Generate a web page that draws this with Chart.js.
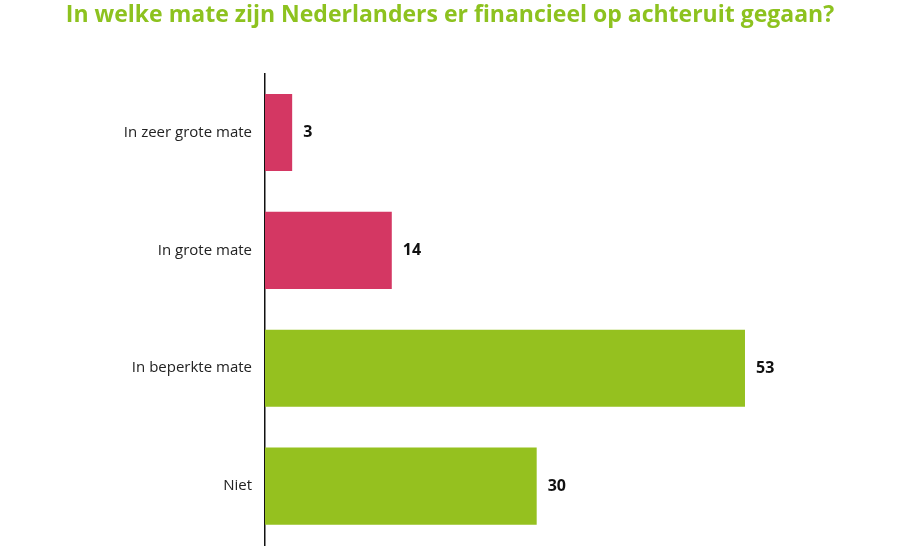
<!DOCTYPE html>
<html>
<head>
<meta charset="utf-8">
<script src="https://cdn.jsdelivr.net/npm/chart.js@4/dist/chart.umd.min.js"></script>
<style>
  html, body { margin: 0; padding: 0; background: #fff; }
  #wrap { width: 900px; height: 551px; }
</style>
</head>
<body>
<div id="wrap"><canvas id="grafiek"></canvas></div>
<script>
// Gegevens uit de grafiek
const categorieen = ["In zeer grote mate", "In grote mate", "In beperkte mate", "Niet"];
const waarden = [3, 14, 53, 30];
const kleuren = ["#d43763", "#d43763", "#95c11f", "#95c11f"];

// Waarden naast de balken
const waardeLabels = {
    id: "waardeLabels",
    afterDatasetsDraw(chart) {
        const ctx = chart.ctx;
        const meta = chart.getDatasetMeta(0);
        ctx.save();
        ctx.font = "bold 16px 'Open Sans', sans-serif";
        ctx.fillStyle = "#111";
        ctx.textAlign = "left";
        ctx.textBaseline = "middle";
        meta.data.forEach((bar, i) => {
            ctx.fillText(String(waarden[i]), bar.x + 11, bar.y);
        });
        ctx.restore();
    }
};

new Chart(document.getElementById("grafiek"), {
    type: "bar",
    data: {
        labels: categorieen,
        datasets: [{
            data: waarden,
            backgroundColor: kleuren,
            categoryPercentage: 1,
            barPercentage: 0.655
        }]
    },
    options: {
        indexAxis: "y",
        responsive: true,
        maintainAspectRatio: false,
        animation: false,
        layout: { padding: { top: 0, right: 40, bottom: 6, left: 40 } },
        plugins: {
            legend: { display: false },
            tooltip: { enabled: false },
            title: {
                display: true,
                text: "In welke mate zijn Nederlanders er financieel op achteruit gegaan?",
                color: "#8dc21f",
                font: { family: "'Open Sans', sans-serif", size: 23, weight: "bold" },
                padding: { top: 2, bottom: 44 }
            }
        },
        scales: {
            x: {
                display: false,
                min: 0,
                max: 65.7
            },
            y: {
                grid: { display: false, drawTicks: false, tickLength: 0 },
                border: { display: true, color: "#111", width: 1.5 },
                ticks: {
                    color: "#222",
                    padding: 13,
                    font: { family: "'Open Sans', sans-serif", size: 15 }
                },
                afterFit(scale) {
                    scale.width = 225;
                    scale.paddingTop = 0;
                    scale.paddingBottom = 0;
                }
            }
        }
    },
    plugins: [waardeLabels]
});
</script>
</body>
</html>
